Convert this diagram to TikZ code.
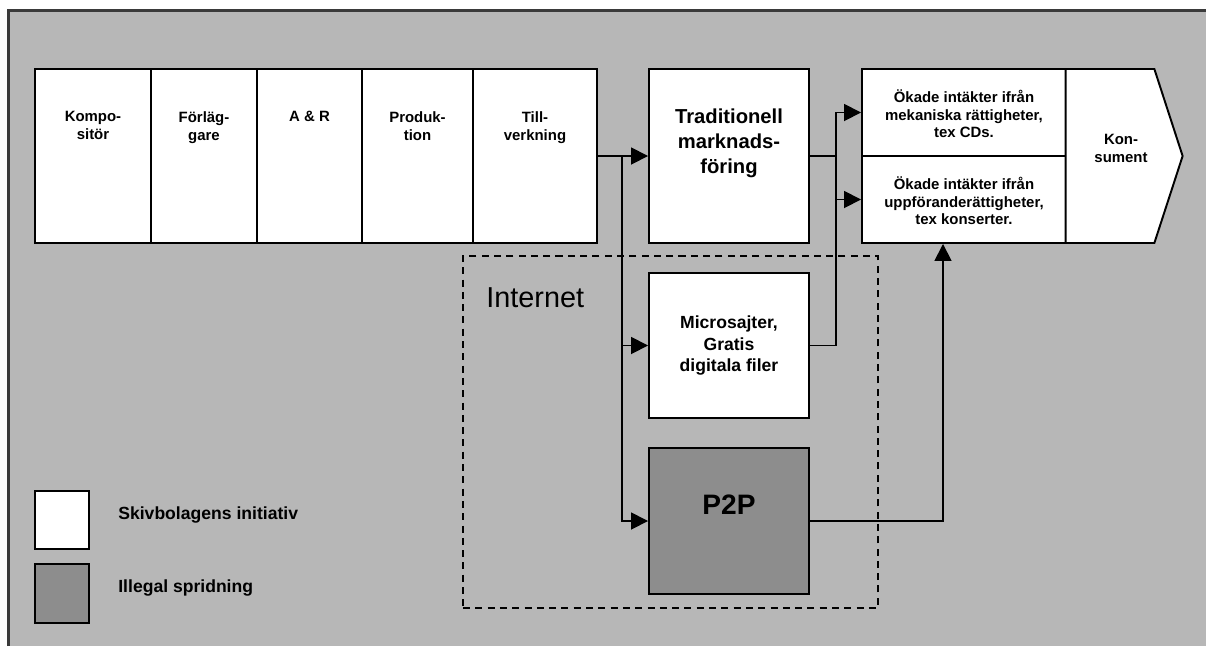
\documentclass[tikz,border=0pt]{standalone}
\usepackage{fontspec}
\setmainfont{Liberation Sans}
\usetikzlibrary{positioning,arrows.meta,shapes.symbols}
\definecolor{bggray}{HTML}{B7B7B7}
\definecolor{p2pgray}{HTML}{8D8D8D}
\definecolor{framegray}{HTML}{3A3A3A}
\tikzset{
  box/.style={draw, line width=1.1pt, fill=white, inner sep=0pt},
  smalltxt/.style={font=\bfseries\fontsize{8.5}{10.2}\selectfont, align=center, inner sep=0pt},
  legtxt/.style={font=\bfseries\fontsize{10}{12}\selectfont, inner sep=0pt, anchor=west},
  flow/.style={line width=1pt, -{Triangle[length=0.34cm,width=0.34cm]}},
  link/.style={line width=1pt}
}
\begin{document}
\begin{tikzpicture}
  \useasboundingbox (0,0) rectangle (24.12,-12.92);
  % background and frame
  \fill[bggray] (0.17,-0.21) rectangle (24.12,-12.92);
  \draw[framegray, line width=1.4pt] (0.17,-12.92) -- (0.17,-0.21) -- (24.12,-0.21);

  % value chain
  \foreach \name/\x/\w/\txt in {komp/1.86/2.32/{Kompo-\\sitör}, forl/4.08/2.12/{Förläg-\\gare},
      ar/6.19/2.10/{A \& R}, prod/8.35/2.22/{Produk-\\tion}, till/10.70/2.48/{Till-\\verkning}} {
    \node[box, minimum width=\w cm, minimum height=3.48cm] (\name) at (\x,-3.12) {};
    \node[smalltxt, below=0.86cm of \name.north] (\name-t) {\txt};
  }
  \node[box, minimum width=3.2cm, minimum height=3.48cm] (trad) at (14.58,-3.12) {};
  \node[smalltxt, font=\bfseries\fontsize{11.5}{14.5}\selectfont, below=0.8cm of trad.north] (trad-t)
    {Traditionell\\marknads-\\föring};

  % revenues and consumer
  \node[box, minimum width=4.08cm, minimum height=1.74cm] (mek) at (19.28,-2.25) {};
  \node[box, minimum width=4.08cm, minimum height=1.74cm] (upp) at (19.28,-3.99) {};
  \node[smalltxt, below=0.42cm of mek.north] (mek-t) {Ökade intäkter ifrån\\mekaniska rättigheter,\\tex CDs.};
  \node[smalltxt, below=0.42cm of upp.north] (upp-t) {Ökade intäkter ifrån\\uppföranderättigheter,\\tex konserter.};
  \node[box, shape=signal, signal pointer angle=144, minimum width=2.34cm, minimum height=3.48cm] (kons) at (22.20,-3.12) {};
  \node[smalltxt, below=1.32cm of kons.north, xshift=0.22cm] (kons-t) {Kon-\\sument};

  % Internet
  \node[draw, line width=1pt, dash pattern=on 4pt off 3pt, minimum width=8.3cm, minimum height=7.04cm] (inet) at (13.41,-8.64) {};
  \node[font=\fontsize{16.4}{19}\selectfont, anchor=west, inner sep=0pt] (inet-t) at (9.72,-5.96) {Internet};
  \node[box, minimum width=3.2cm, minimum height=2.9cm, align=center, font=\bfseries\fontsize{10}{12.5}\selectfont] (micro)
    at (14.58,-6.91) {Microsajter,\\Gratis\\digitala filer};
  \node[box, fill=p2pgray, minimum width=3.2cm, minimum height=2.92cm] (p2p) at (14.58,-10.42) {};
  \node[font=\bfseries\fontsize{16}{19}\selectfont, inner sep=0pt] (p2p-t) at ([yshift=0.32cm]p2p.center) {P2P};

  % connectors
  \coordinate (split) at (12.44,-3.12);
  \coordinate (join) at (16.72,-3.12);
  \draw[flow] (till) -- (trad);
  \draw[flow] (split) |- (micro);
  \draw[flow] (split) |- (p2p);
  \draw[link] (trad) -- (join);
  \draw[flow] (join) |- (mek);
  \draw[flow] (join) |- (upp);
  \draw[link] (micro) -| (join);
  \draw[flow] (p2p) -| ([xshift=-0.42cm]upp.south);

  % legend
  \node[box, minimum width=1.08cm, minimum height=1.16cm] (leg-w) at (1.24,-10.40) {};
  \node[box, fill=p2pgray, minimum width=1.08cm, minimum height=1.18cm] (leg-g) at (1.24,-11.87) {};
  \node[legtxt] (leg-w-t) at (2.36,-10.30) {Skivbolagens initiativ};
  \node[legtxt] (leg-g-t) at (2.36,-11.76) {Illegal spridning};
\end{tikzpicture}
\end{document}
